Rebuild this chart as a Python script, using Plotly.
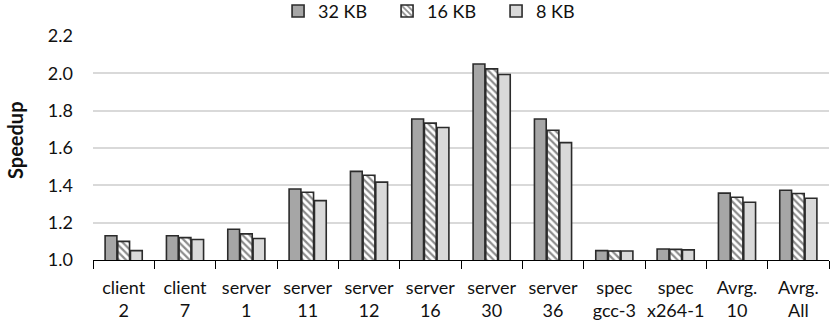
import plotly.graph_objects as go

# 数据
categories = ["client<br>2", "client<br>7", "server<br>1", "server<br>11", "server<br>12",
              "server<br>16", "server<br>30", "server<br>36", "spec<br>gcc-3", "spec<br>x264-1",
              "Avrg.<br>10", "Avrg.<br>All"]
speedup_32kb = [1.13, 1.13, 1.165, 1.38, 1.475, 1.755, 2.05, 1.755, 1.05, 1.059, 1.358, 1.374]
speedup_16kb = [1.10, 1.12, 1.14, 1.363, 1.454, 1.733, 2.024, 1.695, 1.048, 1.057, 1.336, 1.356]
speedup_8kb = [1.05, 1.11, 1.115, 1.318, 1.417, 1.71, 1.994, 1.629, 1.048, 1.054, 1.309, 1.331]
y_ticks = [1.0, 1.2, 1.4, 1.6, 1.8, 2.0, 2.2]

FONT = "Lato, 'Open Sans', sans-serif"
EDGE = dict(color="#2b2b2b", width=1.6)

fig = go.Figure()
fig.add_trace(go.Bar(x=categories, y=speedup_32kb, name="32 KB",
                     marker=dict(color="#a6a6a6", line=EDGE)))
fig.add_trace(go.Bar(x=categories, y=speedup_16kb, name="16 KB",
                     marker=dict(color="white", line=EDGE,
                                 pattern=dict(shape="\\", fgcolor="#1a1a1a", bgcolor="white",
                                              size=5, solidity=0.45))))
fig.add_trace(go.Bar(x=categories, y=speedup_8kb, name="8 KB",
                     marker=dict(color="#d9d9d9", line=EDGE)))

fig.update_layout(
    width=830, height=322,
    margin=dict(l=93, r=1, t=36, b=62, autoexpand=False),
    paper_bgcolor="white", plot_bgcolor="white",
    barmode="group", bargap=0.38, bargroupgap=0.07,
    font=dict(family=FONT, size=17, color="#111111"),
    legend=dict(orientation="h", xref="container", yref="container",
                x=0.532, xanchor="center", y=0.965, yanchor="middle",
                font=dict(size=18), traceorder="normal",
                entrywidth=64, entrywidthmode="pixels", itemwidth=30),
    showlegend=True,
)
# y轴标题
fig.add_annotation(text="<b>Speedup</b>", textangle=-90, xref="paper", yref="paper",
                   x=-(93 - 15) / 736, y=(260 - 140) / 224, xanchor="center", yanchor="middle",
                   showarrow=False, font=dict(size=20))
fig.update_xaxes(showline=True, linecolor="#000000", linewidth=1.2, automargin=False,
                 ticks="outside", tickson="boundaries", ticklen=8, tickcolor="#000000",
                 tickangle=0, ticklabelstandoff=11, tickfont=dict(size=18))
fig.update_yaxes(range=[1.0, 2.2], tickvals=y_ticks, ticktext=[f"{v:.1f}" for v in y_ticks],
                 showgrid=True, gridcolor="#d9d9d9", gridwidth=1.5, zeroline=False,
                 showline=False, ticks="", ticklabelstandoff=19, automargin=False,
                 tickfont=dict(size=18))

# 去掉页面默认边距
fig.write_html("out.html", config={"displayModeBar": False},
               post_script="document.body.style.margin='0';")
